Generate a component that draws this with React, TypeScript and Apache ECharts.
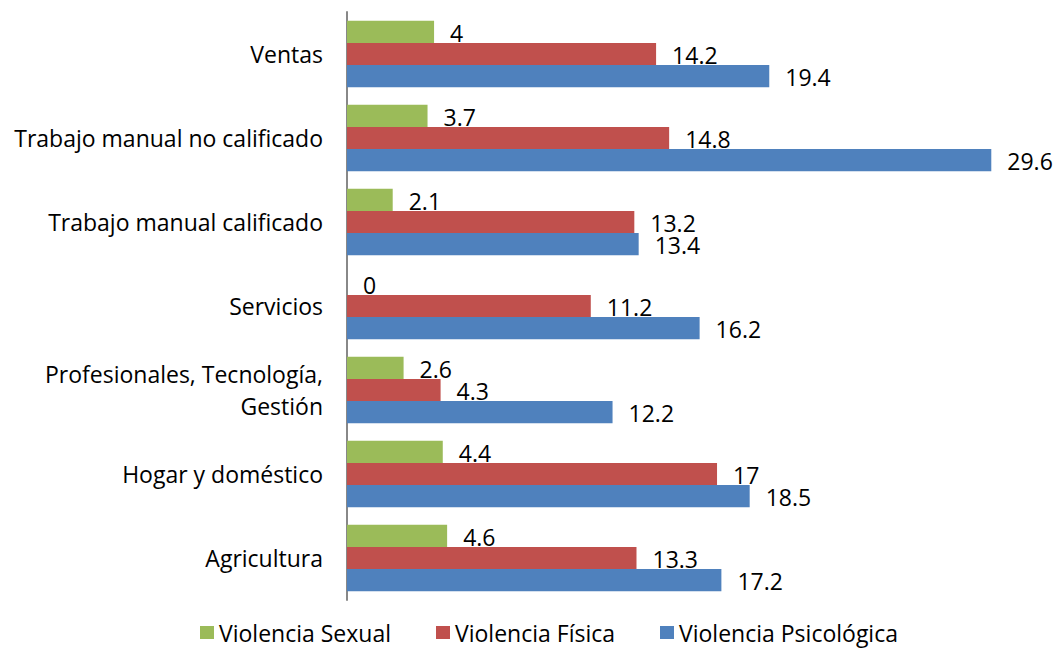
import React, { useEffect, useRef } from "react";
import * as echarts from "echarts";

const categories = [
  "Ventas",
  "Trabajo manual no calificado",
  "Trabajo manual calificado",
  "Servicios",
  "Profesionales, Tecnología,\nGestión",
  "Hogar y doméstico",
  "Agricultura",
];
const sexual = [4, 3.7, 2.1, 0, 2.6, 4.4, 4.6];
const fisica = [14.2, 14.8, 13.2, 11.2, 4.3, 17, 13.3];
const psicologica = [19.4, 29.6, 13.4, 16.2, 12.2, 18.5, 17.2];
const seriesNames = ["Violencia Sexual", "Violencia Física", "Violencia Psicológica"];
const colors = ["#9BBB59", "#C0504D", "#4F81BD"];

const FONT = "Open Sans";

export default function App() {
  const ref = useRef<HTMLDivElement>(null);
  useEffect(() => {
    if (!ref.current) return;
    const chart = echarts.init(ref.current, null, { renderer: "svg" });
    const label = {
      show: true,
      position: "right",
      distance: 16,
      color: "#000",
      fontSize: 23,
      lineHeight: 20,
      fontFamily: FONT,
      offset: [0, 1],
    };
    const datas = [sexual, fisica, psicologica];
    chart.setOption({
      animation: false,
      backgroundColor: "#fff",
      grid: { left: 347, right: 57, top: 12, bottom: 49, containLabel: false },
      legend: {
        bottom: 0,
        left: 195,
        itemWidth: 14,
        itemHeight: 13,
        itemGap: 45,
        icon: "rect",
        textStyle: { fontSize: 23, lineHeight: 23, fontFamily: FONT, color: "#000" },
        data: seriesNames,
      },
      xAxis: {
        type: "value",
        min: 0,
        max: 30,
        show: false,
      },
      yAxis: {
        type: "category",
        inverse: true,
        data: categories,
        axisLine: { show: true, lineStyle: { color: "#888", width: 2 } },
        axisTick: { show: false },
        axisLabel: {
          fontSize: 23,
          fontFamily: FONT,
          color: "#000",
          margin: 24,
          align: "right",
          lineHeight: 32,
        },
      },
      series: seriesNames.map((name, i) => ({
        name,
        type: "bar",
        data: datas[i],
        itemStyle: { color: colors[i] },
        barGap: "0%",
        barCategoryGap: "21%",
        label,
      })),
    });
    return () => chart.dispose();
  }, []);
  return <div ref={ref} style={{ width: 1057, height: 649, position: "absolute", left: 0, top: 0 }} />;
}
